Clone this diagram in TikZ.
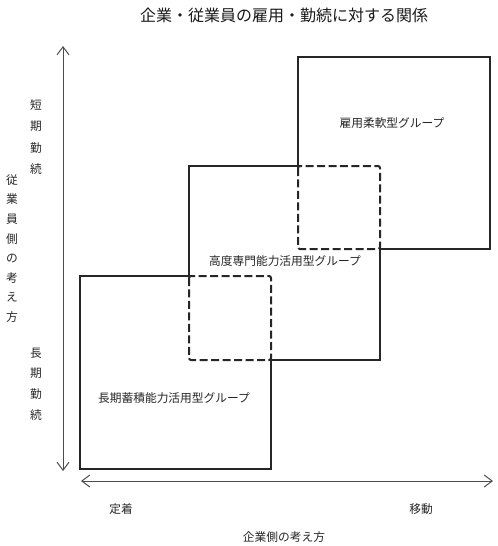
\documentclass[tikz,border=0pt]{standalone}
\usepackage{fontspec}
\newfontfamily\cjk{Noto Sans CJK JP}
\usetikzlibrary{arrows.meta}
\begin{document}
\begin{tikzpicture}[x=0.75pt,y=-0.75pt,
  boxline/.style={draw=black!85,line width=0.85pt},
  overlap/.style={draw=black!85,line width=1.5pt,dash pattern=on 6pt off 2.6pt,rounded corners=1.5pt},
  axis/.style={draw=black!70,line width=0.75pt,{Straight Barb[length=6pt,width=9pt]}-{Straight Barb[length=6pt,width=9pt]}},
  lbl/.style={font=\cjk\fontsize{8.8}{10}\selectfont,text=black!85,inner sep=0pt},
  vlbl/.style={font=\cjk\fontsize{8.8}{#1}\selectfont,text=black!85,inner sep=0pt,align=center},
  ttl/.style={font=\cjk\fontsize{12}{14}\selectfont,text=black!90,inner sep=0pt}]
\useasboundingbox (0,0) rectangle (498,546);
% box corners
\coordinate (A1) at (298,57);  \coordinate (A2) at (490,249);
\coordinate (B1) at (189,166); \coordinate (B2) at (380,360);
\coordinate (C1) at (80,276);  \coordinate (C2) at (271,469);
% box A
\draw[boxline] (A1 |- B1) -- (A1) -- (A2 |- A1) -- (A2) -- (B2 |- A2);
% box B
\draw[boxline] (A1 |- B1) -- (B1) -- (B1 |- C1);
\draw[boxline] (C2 |- B2) -- (B2) -- (B2 |- A2);
% box C
\draw[boxline] (B1 |- C1) -- (C1) -- (C1 |- C2) -- (C2) -- (C2 |- B2);
% overlaps
\draw[overlap] (A1 |- B1) rectangle (B2 |- A2);
\draw[overlap] (B1 |- C1) rectangle (C2 |- B2);
% axes
\coordinate (vtop) at (63,46);
\coordinate (vbot) at (63,471);
\coordinate (hleft) at (81,481);
\coordinate (hright) at (493,481);
\draw[axis] (vbot) -- (vtop);
\draw[axis] (hleft) -- (hright);
% labels
\node[ttl] (title) at (284,15) {企業・従業員の雇用・勤続に対する関係};
\node[lbl] (la) at (392,123) {雇用柔軟型グループ};
\node[lbl] (lb) at (285,261) {高度専門能力活用型グループ};
\node[lbl] (lc) at (174,398) {長期蓄積能力活用型グループ};
\node[vlbl=15.9pt] (short) at (36,137) {短\\期\\勤\\続};
\node[vlbl=15.5pt] (long) at (36,384) {長\\期\\勤\\続};
\node[vlbl=14.7pt] (emp) at (12,248.5) {従\\業\\員\\側\\の\\考\\え\\方};
\node[lbl] (fix) at (121,509) {定着};
\node[lbl] (move) at (421,509) {移動};
\node[lbl] (firm) at (284,537) {企業側の考え方};
\end{tikzpicture}
\end{document}
